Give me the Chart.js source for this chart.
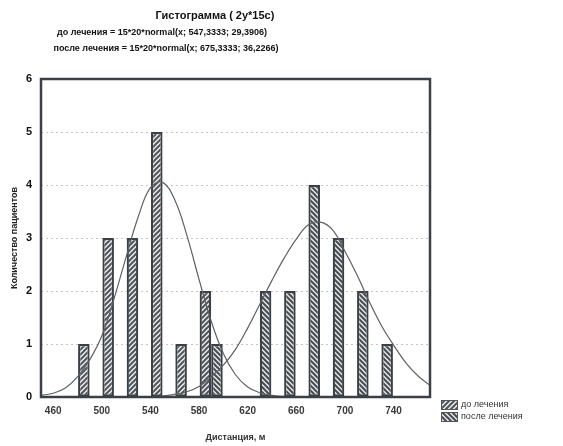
<!DOCTYPE html>
<html>
<head>
<meta charset="utf-8">
<script src="https://cdn.jsdelivr.net/npm/chart.js@4/dist/chart.umd.min.js"></script>
<style>
html,body{margin:0;padding:0;background:#fff;}
#wrap{width:563px;height:446px;position:relative;}
canvas{display:block;}
</style>
</head>
<body>
<div id="wrap"><canvas id="c" width="563" height="446"></canvas></div>
<script>
// ---- data ----
const titleLines = [
  "Гистограмма ( 2у*15с)",
  "до лечения = 15*20*normal(x; 547,3333; 29,3906)",
  "после лечения = 15*20*normal(x; 675,3333; 36,2266)"
];
const seriesNames = ["до лечения", "после лечения"];
const xTitle = "Дистанция, м";
const yTitle = "Количество пациентов";

const binCenters   = [490, 510, 530, 550, 570, 590, 610, 630, 650, 670, 690, 710, 730];
const beforeCounts = [1,   3,   3,   5,   1,   2,   0,   0,   0,   0,   0,   0,   0];
const afterCounts  = [0,   0,   0,   0,   0,   1,   0,   2,   2,   4,   3,   2,   1];

const beforeCurveX = [450, 460, 470, 480, 490, 500, 510, 520, 530, 540, 550, 560, 570, 580, 590, 600, 610, 620, 630, 640, 650, 660];
const beforeCurveY = [0.03, 0.07, 0.17, 0.38, 0.70, 1.15, 1.85, 2.64, 3.40, 3.95, 4.05, 3.72, 3.05, 2.22, 1.43, 0.82, 0.42, 0.19, 0.08, 0.03, 0.01, 0];

const afterCurveX = [540, 550, 560, 570, 580, 590, 600, 610, 620, 630, 640, 650, 660, 670, 680, 690, 700, 710, 720, 730, 740, 750, 760, 770];
const afterCurveY = [0, 0.02, 0.05, 0.10, 0.20, 0.38, 0.60, 0.90, 1.30, 1.75, 2.20, 2.62, 2.98, 3.25, 3.30, 3.15, 2.75, 2.30, 1.80, 1.35, 0.98, 0.65, 0.40, 0.22];

const xTicks = [460, 500, 540, 580, 620, 660, 700, 740];
const yTicks = [0, 1, 2, 3, 4, 5, 6];

// ---- styling helpers ----
const FONT = '"Liberation Sans", Arial, sans-serif';
const FRAME = '#3a4046';

function makePattern(dir, stripe, bg) {
  const s = 5;
  const c = document.createElement('canvas');
  c.width = s; c.height = s;
  const g = c.getContext('2d');
  g.fillStyle = bg; g.fillRect(0, 0, s, s);
  g.strokeStyle = stripe; g.lineWidth = 2;
  g.beginPath();
  if (dir > 0) {
    g.moveTo(-1, s + 1); g.lineTo(s + 1, -1);
    g.moveTo(-1, 1); g.lineTo(1, -1);
    g.moveTo(s - 1, s + 1); g.lineTo(s + 1, s - 1);
  } else {
    g.moveTo(-1, -1); g.lineTo(s + 1, s + 1);
    g.moveTo(-1, s - 1); g.lineTo(1, s + 1);
    g.moveTo(s - 1, -1); g.lineTo(s + 1, 1);
  }
  g.stroke();
  return g.createPattern(c, 'repeat');
}
const patBefore = makePattern(1, '#50565c', '#ececec');
const patAfter = makePattern(-1, '#464c52', '#e6e6e6');

const toPts = (xs, ys) => xs.map((x, i) => ({x: x, y: ys[i]}));

const decor = {
  id: 'decor',
  afterDraw(chart) {
    const {ctx, chartArea: a} = chart;
    ctx.save();
    // frame
    ctx.strokeStyle = FRAME;
    ctx.lineWidth = 2.5;
    ctx.strokeRect(a.left, a.top, a.right - a.left, a.bottom - a.top);
    // title
    ctx.fillStyle = '#111';
    ctx.textAlign = 'center';
    ctx.textBaseline = 'middle';
    ctx.font = 'bold 11px ' + FONT;
    ctx.fillText(titleLines[0], 215, 16);
    ctx.font = 'bold 9px ' + FONT;
    ctx.fillText(titleLines[1], 162, 33);
    ctx.fillText(titleLines[2], 166, 49);
    // legend
    const items = [[patBefore, seriesNames[0], 405], [patAfter, seriesNames[1], 417]];
    ctx.textAlign = 'left';
    ctx.font = '9px ' + FONT;
    items.forEach(([p, label, y]) => {
      ctx.fillStyle = p;
      ctx.fillRect(441, y - 5, 17, 10);
      ctx.strokeStyle = '#555';
      ctx.lineWidth = 1;
      ctx.strokeRect(441.5, y - 4.5, 16, 9);
      ctx.fillStyle = '#333';
      ctx.fillText(label, 461, y);
    });
    ctx.restore();
  }
};

const barBorder = c => (c.raw && c.raw.y > 0) ? 2.2 : 0;

new Chart(document.getElementById('c'), {
  type: 'bar',
  data: {
    datasets: [
      {
        type: 'line',
        label: 'curve1',
        data: toPts(beforeCurveX, beforeCurveY),
        borderColor: '#5e6266',
        borderWidth: 1.2,
        pointRadius: 0,
        tension: 0.4,
        fill: false,
        order: 0
      },
      {
        type: 'line',
        label: 'curve2',
        data: toPts(afterCurveX, afterCurveY),
        borderColor: '#5e6266',
        borderWidth: 1.2,
        pointRadius: 0,
        tension: 0.4,
        fill: false,
        order: 0
      },
      {
        label: seriesNames[0],
        data: toPts(binCenters, beforeCounts),
        backgroundColor: patBefore,
        borderColor: FRAME,
        borderWidth: barBorder,
        borderSkipped: false,
        categoryPercentage: 0.95,
        barPercentage: 1.0,
        order: 1
      },
      {
        label: seriesNames[1],
        data: toPts(binCenters, afterCounts),
        backgroundColor: patAfter,
        borderColor: FRAME,
        borderWidth: barBorder,
        borderSkipped: false,
        categoryPercentage: 0.95,
        barPercentage: 1.0,
        order: 1
      }
    ]
  },
  options: {
    responsive: false,
    animation: false,
    layout: {padding: {top: 79, right: 133, left: 0, bottom: 0}},
    plugins: {legend: {display: false}, tooltip: {enabled: false}, title: {display: false}},
    scales: {
      x: {
        type: 'linear',
        min: 450, max: 770,
        offset: false,
        grid: {display: false, offset: false, drawTicks: false},
        border: {display: false},
        afterBuildTicks: s => { s.ticks = xTicks.map(v => ({value: v})); },
        afterFit: s => { s.height = 49; },
        ticks: {
          padding: 8,
          color: '#3a3a3a',
          font: {family: FONT, size: 10, weight: 'bold'},
          maxRotation: 0,
          autoSkip: false
        },
        title: {
          display: true,
          text: xTitle,
          color: '#333',
          font: {family: FONT, size: 9, weight: 'bold'},
          padding: {top: 0, bottom: 3}
        }
      },
      y: {
        min: 0, max: 6,
        afterBuildTicks: s => { s.ticks = yTicks.map(v => ({value: v})); },
        afterFit: s => { s.width = 41; },
        grid: {color: '#c4c4c4', lineWidth: 1, drawTicks: false},
        border: {display: false, dash: [2, 3]},
        ticks: {
          padding: 9,
          color: '#111',
          font: {family: FONT, size: 11, weight: 'bold'}
        },
        title: {
          display: true,
          text: yTitle,
          color: '#222',
          font: {family: FONT, size: 9, weight: 'bold'},
          padding: {top: 9, bottom: 0}
        }
      }
    }
  },
  plugins: [decor]
});
</script>
</body>
</html>
